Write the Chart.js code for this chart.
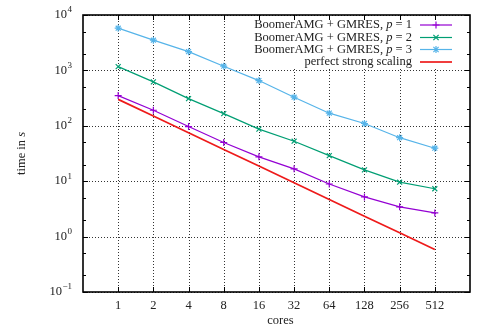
<!DOCTYPE html>
<html>
<head>
<meta charset="utf-8">
<script src="https://cdn.jsdelivr.net/npm/chart.js@4/dist/chart.umd.min.js"></script>
<style>
  html, body { margin: 0; padding: 0; background: #fff; }
</style>
</head>
<body>
<canvas id="scaling" width="483" height="336"></canvas>
<script>
// ===================== Data =====================
const cores = [1, 2, 4, 8, 16, 32, 64, 128, 256, 512];
const timeP1 = [351, 191, 97, 50, 27.5, 16.7, 8.9, 5.2, 3.45, 2.68];
const timeP2 = [1170, 620, 310, 166, 87, 52.7, 29, 16, 9.6, 7.3];
const timeP3 = [5780, 3510, 2180, 1190, 655, 328, 169, 110, 61, 39.4];
const timePerfect = [300, 150, 75, 37.5, 18.75, 9.38, 4.69, 2.34, 1.17, 0.586];
const yTicks = [0.1, 1, 10, 100, 1000, 10000];
const yExponents = ['\u22121', '0', '1', '2', '3', '4'];

const serif = '"Liberation Serif", "DejaVu Serif", serif';

const series = [
  { prefix: 'BoomerAMG + GMRES, ', ital: 'p', suffix: ' = 1', data: timeP1, color: '#9400d3', style: 'cross', width: 1.2 },
  { prefix: 'BoomerAMG + GMRES, ', ital: 'p', suffix: ' = 2', data: timeP2, color: '#009e73', style: 'crossRot', width: 1.2 },
  { prefix: 'BoomerAMG + GMRES, ', ital: 'p', suffix: ' = 3', data: timeP3, color: '#56b4e9', style: 'star', width: 1.2 },
  { prefix: 'perfect strong scaling', ital: '', suffix: '', data: timePerfect, color: '#ee1a1a', style: false, width: 1.7 }
];

function drawMarker(ctx, style, x, y, r, color) {
  ctx.save();
  ctx.strokeStyle = color;
  ctx.lineWidth = 1.2;
  ctx.beginPath();
  if (style === 'cross' || style === 'star') {
    ctx.moveTo(x - r, y); ctx.lineTo(x + r, y);
    ctx.moveTo(x, y - r); ctx.lineTo(x, y + r);
  }
  if (style === 'crossRot' || style === 'star') {
    const d = r * 0.75;
    ctx.moveTo(x - d, y - d); ctx.lineTo(x + d, y + d);
    ctx.moveTo(x - d, y + d); ctx.lineTo(x + d, y - d);
  }
  ctx.stroke();
  ctx.restore();
}

// ===================== Frame, grid, labels, legend =====================
const gnuplotLook = {
  id: 'gnuplotLook',
  beforeDatasetsDraw(chart) {
    const { ctx, chartArea: a, scales: { x, y } } = chart;
    ctx.save();
    ctx.strokeStyle = '#333';
    ctx.lineWidth = 1;
    ctx.setLineDash([1, 2]);
    yTicks.forEach(v => {
      const py = Math.round(y.getPixelForValue(v)) + 0.5;
      ctx.beginPath(); ctx.moveTo(a.left, py); ctx.lineTo(a.right, py); ctx.stroke();
    });
    cores.forEach(c => {
      const px = Math.round(x.getPixelForValue(Math.log2(c))) + 0.5;
      ctx.beginPath(); ctx.moveTo(px, a.top); ctx.lineTo(px, a.bottom); ctx.stroke();
    });
    ctx.setLineDash([]);
    // legend background hides the grid
    ctx.fillStyle = '#fff';
    ctx.fillRect(246, a.top + 1, a.right - 247, 53);
    ctx.restore();
  },
  afterDatasetsDraw(chart) {
    const { ctx, chartArea: a, scales: { x, y } } = chart;
    ctx.save();
    ctx.strokeStyle = '#000';
    ctx.lineWidth = 1;
    // y ticks, major and minor (2, 5)
    yTicks.forEach(v => {
      const py = Math.round(y.getPixelForValue(v)) + 0.5;
      ctx.beginPath();
      ctx.moveTo(a.left, py); ctx.lineTo(a.left + 5, py);
      ctx.moveTo(a.right, py); ctx.lineTo(a.right - 5, py);
      ctx.stroke();
      [2, 5].forEach(m => {
        if (v * m > 10000) return;
        const pm = Math.round(y.getPixelForValue(v * m)) + 0.5;
        ctx.beginPath();
        ctx.moveTo(a.left, pm); ctx.lineTo(a.left + 3, pm);
        ctx.moveTo(a.right, pm); ctx.lineTo(a.right - 3, pm);
        ctx.stroke();
      });
    });
    // x ticks
    cores.forEach(c => {
      const px = Math.round(x.getPixelForValue(Math.log2(c))) + 0.5;
      ctx.beginPath();
      ctx.moveTo(px, a.bottom); ctx.lineTo(px, a.bottom - 5);
      ctx.moveTo(px, a.top); ctx.lineTo(px, a.top + 5);
      ctx.stroke();
    });
    // box
    ctx.lineWidth = 1.6;
    ctx.strokeRect(a.left, a.top, a.right - a.left, a.bottom - a.top);

    ctx.fillStyle = '#222';
    ctx.textBaseline = 'middle';
    // x tick labels
    ctx.font = '12.5px ' + serif;
    ctx.textAlign = 'center';
    cores.forEach(c => {
      ctx.fillText(String(c), x.getPixelForValue(Math.log2(c)), 306);
    });
    // y tick labels 10^k
    yTicks.forEach((v, i) => {
      const py = y.getPixelForValue(v);
      ctx.font = '9px ' + serif;
      const ew = ctx.measureText(yExponents[i]).width;
      ctx.textAlign = 'right';
      ctx.fillText(yExponents[i], 72, py - 5);
      ctx.font = '12.5px ' + serif;
      ctx.fillText('10', 72 - ew - 0.5, py);
    });
    // axis titles
    ctx.textAlign = 'center';
    ctx.font = '12.5px ' + serif;
    ctx.fillText('cores', (a.left + a.right) / 2 + 4, 321);
    ctx.save();
    ctx.translate(22, (a.top + a.bottom) / 2);
    ctx.rotate(-Math.PI / 2);
    ctx.textAlign = 'left';
    const t1 = 'time in ';
    ctx.font = '12.5px ' + serif;
    const w1 = ctx.measureText(t1).width;
    ctx.font = 'italic 12.5px ' + serif;
    const w2 = ctx.measureText('s').width;
    ctx.font = '12.5px ' + serif;
    ctx.fillText(t1, -(w1 + w2) / 2, 0);
    ctx.font = 'italic 12.5px ' + serif;
    ctx.fillText('s', -(w1 + w2) / 2 + w1, 0);
    ctx.restore();

    // legend
    const rows = [25, 37.5, 49.5, 62];
    series.forEach((s, i) => {
      const ly = rows[i];
      ctx.font = '12.5px ' + serif;
      const wa = ctx.measureText(s.prefix).width;
      const wc = ctx.measureText(s.suffix).width;
      ctx.font = 'italic 12.5px ' + serif;
      const wb = ctx.measureText(s.ital).width;
      let lx = 412 - (wa + wb + wc);
      ctx.textAlign = 'left';
      ctx.font = '12.5px ' + serif;
      ctx.fillText(s.prefix, lx, ly);
      ctx.font = 'italic 12.5px ' + serif;
      ctx.fillText(s.ital, lx + wa, ly);
      ctx.font = '12.5px ' + serif;
      ctx.fillText(s.suffix, lx + wa + wb, ly);
      ctx.strokeStyle = s.color;
      ctx.lineWidth = s.width;
      ctx.beginPath(); ctx.moveTo(420, ly); ctx.lineTo(452, ly); ctx.stroke();
      if (s.style) drawMarker(ctx, s.style, 436, ly, 3.5, s.color);
    });
    ctx.restore();
  }
};

// ===================== Chart =====================
const ctx = document.getElementById('scaling').getContext('2d');

new Chart(ctx, {
  type: 'line',
  data: {
    datasets: series.map(s => ({
      label: s.prefix + s.ital + s.suffix,
      data: cores.map((c, i) => ({ x: Math.log2(c), y: s.data[i] })),
      borderColor: s.color,
      backgroundColor: s.color,
      borderWidth: s.width,
      pointStyle: s.style || 'circle',
      pointRadius: s.style ? 3.5 : 0,
      pointBorderWidth: 1.2,
      pointBorderColor: s.color,
      tension: 0,
      fill: false
    }))
  },
  options: {
    responsive: false,
    animation: false,
    devicePixelRatio: 1,
    layout: { padding: { top: 15, right: 13, left: 0, bottom: 0 } },
    plugins: {
      legend: { display: false },
      tooltip: { enabled: false }
    },
    scales: {
      x: {
        type: 'linear', min: -1, max: 10,
        ticks: { display: false },
        grid: { display: false },
        border: { display: false },
        afterFit: s => { s.height = 44; }
      },
      y: {
        type: 'logarithmic', min: 0.1, max: 10000,
        ticks: { display: false },
        grid: { display: false },
        border: { display: false },
        afterFit: s => { s.width = 83; }
      }
    }
  },
  plugins: [gnuplotLook]
});
</script>
</body>
</html>
